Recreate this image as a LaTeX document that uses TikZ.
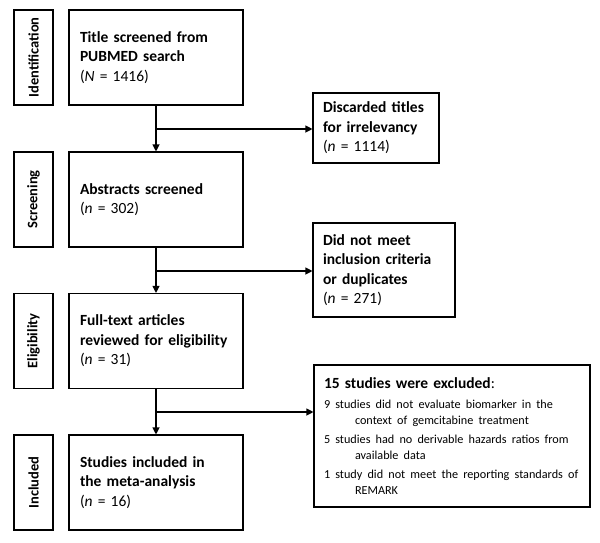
\documentclass[tikz,border=0pt]{standalone}
\usepackage{fontspec}
\setmainfont{Carlito}
\usetikzlibrary{arrows.meta}
\setlength{\parindent}{0pt}
\hyphenpenalty=10000

\begin{document}
\begin{tikzpicture}[x=1pt,y=-1pt,
    stage/.style={draw, line width=1.1pt, rotate=90, minimum width=95pt, minimum height=39pt,
      inner sep=0pt, font=\fontsize{14.5}{17}\selectfont\bfseries},
    mainbox/.style={draw, line width=1.1pt, minimum width=174pt, minimum height=95pt,
      text width=152pt, align=left, inner sep=0pt, font=\fontsize{15.5}{19.5}\selectfont},
    sidebox/.style={draw, line width=1.1pt, align=left, inner sep=0pt,
      font=\fontsize{15.5}{19.5}\selectfont},
    flow/.style={line width=1.1pt, -{Triangle[length=7pt,width=7pt]}},
    branch/.style={line width=1.1pt}]
\useasboundingbox (0,0) rectangle (600,542);

% stages
\node[stage] (ident) at (33.5,57.5) {Identification};
\node[stage] (screen) at (33.5,199.5) {Screening};
\node[stage] (elig) at (33.5,341) {Eligibility};
\node[stage] (incl) at (33.5,482.5) {Included};

% main column
\node[mainbox] (titles) at (156,57.5) {\textbf{Title screened from}\\\textbf{PUBMED search}\\(\textit{N} = 1416)};
\node[mainbox] (abstracts) at (156,199.5) {\textbf{Abstracts screened}\\(\textit{n} = 302)};
\node[mainbox] (fulltext) at (156,341) {\textbf{Full-text articles}\\\textbf{reviewed for eligibility}\\(\textit{n} = 31)};
\node[mainbox] (studies) at (156,482.5) {\textbf{Studies included in}\\\textbf{the meta-analysis}\\(\textit{n} = 16)};

% exclusions
\node[sidebox, minimum width=126pt, minimum height=70pt, text width=106pt] (discarded) at (376,128)
  {\textbf{Discarded titles}\\\textbf{for irrelevancy}\\(\textit{n} = 1114)};
\node[sidebox, minimum width=142pt, minimum height=94pt, text width=122pt] (notmeet) at (384,270)
  {\textbf{Did not meet}\\\textbf{inclusion criteria}\\\textbf{or duplicates}\\(\textit{n} = 271)};
\node[draw, line width=1.1pt, inner sep=0pt, minimum width=276pt, minimum height=142pt, text width=256pt,
  font=\fontsize{15.5}{19.5}\selectfont] (excluded) at (452,436)
  {\raggedright\textbf{15 studies were excluded}:\par\vspace{5pt}
   {\fontsize{12.2}{15.5}\selectfont
   \hangindent=31pt\hangafter=1 9 studies did not evaluate biomarker in the\hfil\break context of gemcitabine treatment\par\vspace{4pt}
   \hangindent=31pt\hangafter=1 5 studies had no derivable hazards ratios from\hfil\break available data\par\vspace{4pt}
   \hangindent=31pt\hangafter=1 1 study did not meet the reporting standards of\hfil\break REMARK\par}};

% arrows
\coordinate (br1) at (156,129);
\coordinate (br2) at (156,271);
\coordinate (br3) at (156,412);

\draw[flow] (titles) -- (abstracts);
\draw[flow] (abstracts) -- (fulltext);
\draw[flow] (fulltext) -- (studies);
\draw[flow] (br1) -- (br1 -| discarded.west);
\draw[flow] (br2) -- (br2 -| notmeet.west);
\draw[flow] (br3) -- (br3 -| excluded.west);

\end{tikzpicture}
\end{document}
